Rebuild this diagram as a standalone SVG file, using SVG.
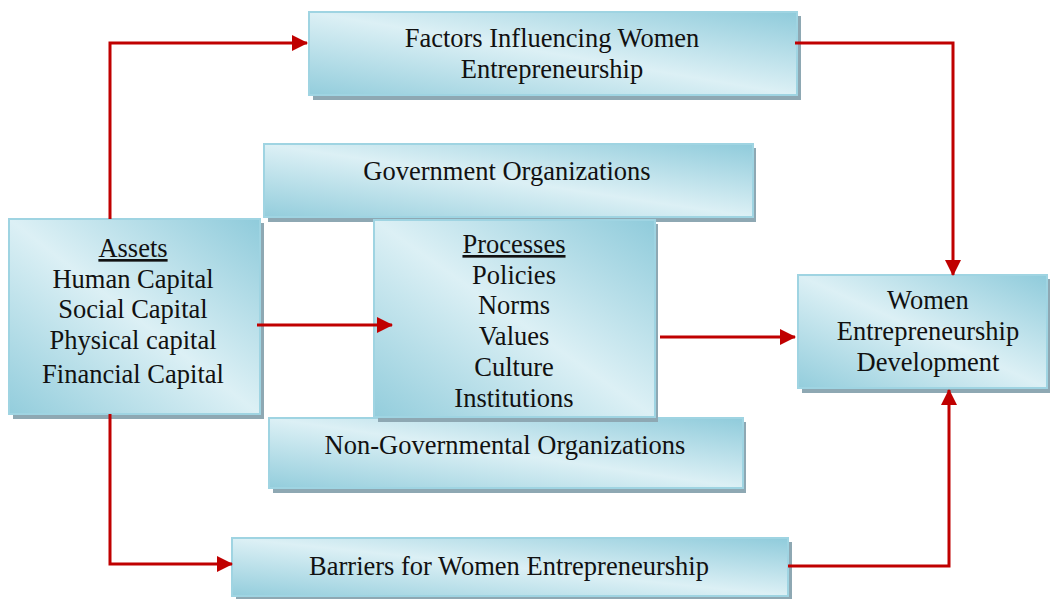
<svg xmlns="http://www.w3.org/2000/svg" width="1050" height="599" viewBox="0 0 1050 599">
<style>
.box{fill:url(#g);stroke:#9fd4e2;stroke-width:2}
.sh{fill:#8ea8b3}
text{font-family:"Liberation Serif","Times New Roman",serif;font-size:26.5px;fill:#111;text-anchor:middle}
.c{fill:none;stroke:#c00000;stroke-width:3}
</style>
<defs>
<linearGradient id="g" x1="0" y1="1" x2="1" y2="0">
<stop offset="0" stop-color="#93cddc"/>
<stop offset="0.5" stop-color="#dcf0f5"/>
<stop offset="1" stop-color="#8fcbdb"/>
</linearGradient>
<marker id="a" markerUnits="userSpaceOnUse" markerWidth="16" markerHeight="16" refX="15" refY="8" orient="auto">
<path d="M0,0 L16,8 L0,16 Z" fill="#c00000"/>
</marker>
</defs>
<g id="factors">
<rect class="sh" x="313" y="16" width="488" height="84"/>
<rect class="box" x="309" y="12" width="488" height="83"/>
<text x="552" y="47">Factors Influencing Women</text>
<text x="552" y="78">Entrepreneurship</text>
</g>
<g id="government">
<rect class="sh" x="268" y="148" width="488" height="74"/>
<rect class="box" x="264" y="144" width="489" height="73"/>
<text x="507" y="180">Government Organizations</text>
</g>
<g id="assets">
<rect class="sh" x="13" y="223" width="251" height="196"/>
<rect class="box" x="9" y="219" width="251" height="195"/>
<text x="133" y="257" text-decoration="underline">Assets</text>
<text x="133" y="288">Human Capital</text>
<text x="133" y="318">Social Capital</text>
<text x="133" y="349">Physical capital</text>
<text x="133" y="383">Financial Capital</text>
</g>
<g id="ngo">
<rect class="sh" x="273" y="422" width="473" height="71"/>
<rect class="box" x="269" y="418" width="474" height="70"/>
<text x="505" y="454">Non-Governmental Organizations</text>
</g>
<g id="processes">
<rect class="sh" x="378" y="224" width="280" height="198"/>
<rect class="box" x="374" y="220" width="281" height="197"/>
<text x="514" y="253" text-decoration="underline">Processes</text>
<text x="514" y="284">Policies</text>
<text x="514" y="314">Norms</text>
<text x="514" y="345">Values</text>
<text x="514" y="376">Culture</text>
<text x="514" y="407">Institutions</text>
</g>
<g id="women">
<rect class="sh" x="802" y="279" width="250" height="114"/>
<rect class="box" x="798" y="275" width="249" height="113"/>
<text x="928" y="309">Women</text>
<text x="928" y="340">Entrepreneurship</text>
<text x="928" y="371">Development</text>
</g>
<g id="barriers">
<rect class="sh" x="236" y="542" width="556" height="58"/>
<rect class="box" x="232" y="538" width="556" height="58"/>
<text x="509" y="575">Barriers for Women Entrepreneurship</text>
</g>
<g id="connectors">
<path class="c" d="M110,219 V43 H307" marker-end="url(#a)"/>
<path class="c" d="M795,43 H953 V275" marker-end="url(#a)"/>
<path class="c" d="M257,325 H392" marker-end="url(#a)"/>
<path class="c" d="M660,337 H795" marker-end="url(#a)"/>
<path class="c" d="M110,414 V564 H232" marker-end="url(#a)"/>
<path class="c" d="M788,566 H949 V390" marker-end="url(#a)"/>
</g>
</svg>
